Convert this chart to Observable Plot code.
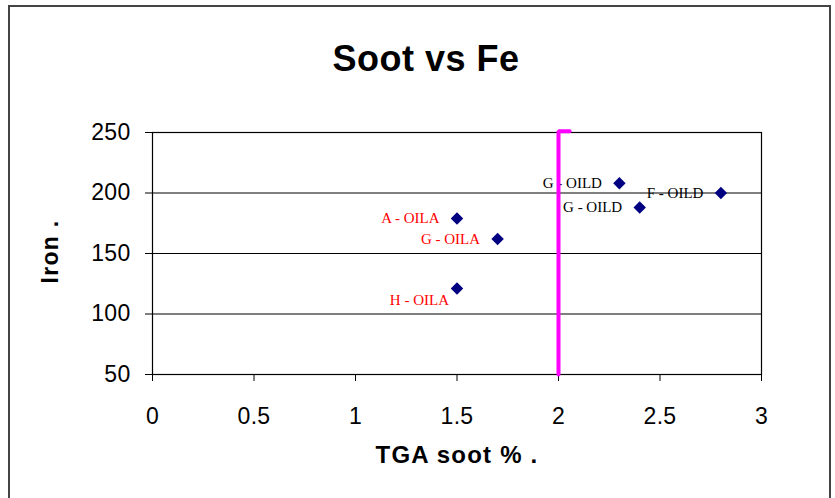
<!DOCTYPE html>
<html>
<head>
<meta charset="utf-8">
<script src="https://cdn.jsdelivr.net/npm/d3@7"></script>
<script src="https://cdn.jsdelivr.net/npm/@observablehq/plot@0.6"></script>
<style>
  body { margin: 0; background: white; }
  #wrap { position: relative; width: 835px; height: 498px; overflow: hidden; }
  #border { position: absolute; left: 8px; top: 5px; width: 819px; height: 500px; border: 2px solid #444; pointer-events: none; }
</style>
</head>
<body>
<div id="wrap"><div id="chart"></div><div id="border"></div></div>
<script>
// Data
const labels = ["A - OILA", "G - OILA", "H - OILA", "G - OILD", "G - OILD", "F - OILD"];
const soot = [1.5, 1.7, 1.5, 2.3, 2.4, 2.8];
const iron = [179, 162, 121, 208, 188, 200];
const xTicks = [0, 0.5, 1, 1.5, 2, 2.5, 3];
const yTicks = [50, 100, 150, 200, 250];
const gridY = [100, 150, 200, 250];
const refX = [2.055, 2, 2];
const refY = [251, 251, 50];
const titleText = ["Soot vs Fe"];
const xTitle = ["TGA soot % ."];
const yTitle = ["Iron ."];

const points = labels.map((label, i) => ({label, x: soot[i], y: iron[i]}));
const refLine = refX.map((x, i) => ({x, y: refY[i]}));

const labelColor = d => d.label.endsWith("OILA") ? "#FF0000" : "#000000";
const serif = "Liberation Serif, Times New Roman, serif";

const chart = Plot.plot({
  width: 835,
  height: 498,
  marginLeft: 152,
  marginRight: 74,
  marginTop: 132,
  marginBottom: 124,
  style: {fontSize: "23px", fontFamily: "Liberation Sans, Arial, sans-serif", background: "white", color: "black"},
  x: {domain: [0, 3], ticks: xTicks, tickSize: 7, tickPadding: 26, label: null, tickFormat: d => String(d)},
  y: {domain: [50, 250], ticks: yTicks, tickSize: 7, tickPadding: 15, label: null, tickFormat: d => String(d)},
  marks: [
    Plot.ruleY(gridY, {stroke: "black", strokeWidth: 1.2}),
    Plot.frame({stroke: "black", strokeWidth: 1.2}),
    Plot.dot(points, {x: "x", y: "y", symbol: "diamond2", r: 5.6, fill: "#000080", stroke: "none"}),
    Plot.text(points, {filter: d => d.label !== "H - OILA", x: "x", y: "y", text: "label", textAnchor: "end", dx: -17.5, fill: labelColor, fontSize: 15, fontFamily: serif}),
    Plot.text(points, {filter: d => d.label === "H - OILA", x: "x", y: "y", text: "label", textAnchor: "end", dx: -8, dy: 12, fill: labelColor, fontSize: 15, fontFamily: serif}),
    Plot.line(refLine, {x: "x", y: "y", stroke: "#FF00FF", strokeWidth: 4, strokeLinejoin: "miter"}),
    Plot.text(titleText, {text: d => d, frameAnchor: "top", textAnchor: "middle", dx: -31, dy: -87, fontSize: 36, fontWeight: "bold", fill: "black"}),
    Plot.text(xTitle, {text: d => d, frameAnchor: "bottom", textAnchor: "middle", dx: 0, dy: 88, fontSize: 24, fontWeight: "bold", fill: "black"}),
    Plot.text(yTitle, {text: d => d, frameAnchor: "left", textAnchor: "middle", rotate: -90, dx: -102, dy: -2, fontSize: 23, fontWeight: "bold", fill: "black"})
  ]
});
document.getElementById("chart").appendChild(chart);
const svg = d3.select(chart);
const spacing = {"Soot vs Fe": "0.5px", "TGA soot % .": "1.2px", "Iron .": "1.3px"};
svg.selectAll("text").each(function() {
  const t = this.textContent;
  if (spacing[t]) d3.select(this).style("letter-spacing", spacing[t]);
});
svg.selectAll('g[aria-label$="tick label"] text').style("letter-spacing", "0.3px");
</script>
</body>
</html>
